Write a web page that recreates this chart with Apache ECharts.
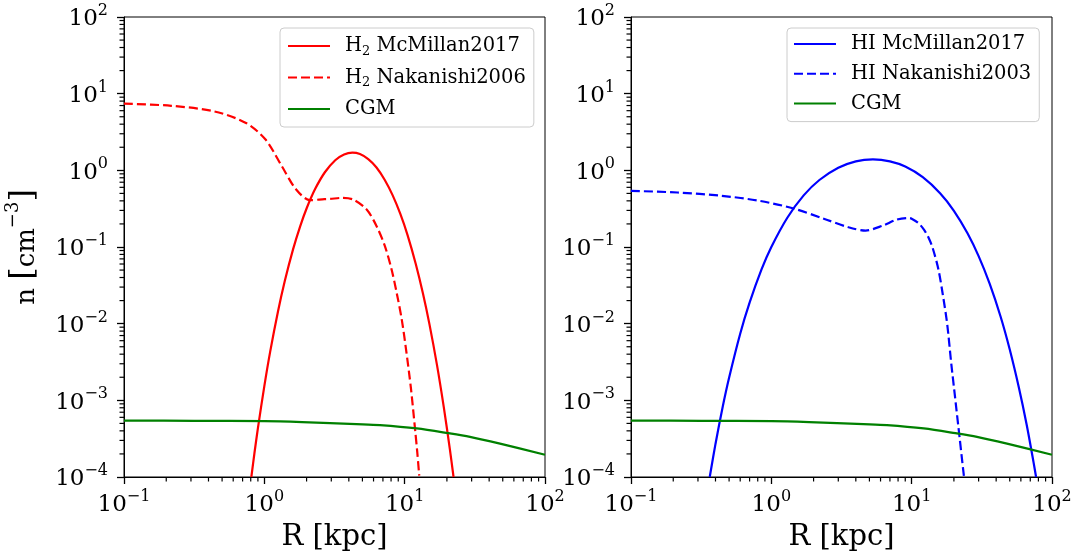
<!DOCTYPE html>
<html><head><meta charset="utf-8">
<script src="https://cdn.jsdelivr.net/npm/echarts@6/dist/echarts.min.js"></script>
<style>html,body{margin:0;padding:0;background:#fff}#c{width:1078px;height:557px}</style>
</head><body><div id="c"></div>
<script>
// ---- data ----
const h2McR = [0.808, 0.85, 0.9, 1.0, 1.1, 1.25, 1.4, 1.6, 1.8, 2.0, 2.3, 2.7, 3.2, 3.7, 4.24, 4.8, 5.5, 6.3, 7.2, 8.2, 9.3, 10.5, 12, 13.5, 15, 17, 19, 21, 22.3];
const h2McN = [1.0e-4, 2.04e-4, 4.33e-4, 1.53e-3, 4.28e-3, 0.0143, 0.0362, 0.0925, 0.186, 0.318, 0.569, 0.944, 1.355, 1.61, 1.70, 1.63, 1.40, 1.09, 0.755, 0.475, 0.272, 0.142, 0.060, 0.0247, 0.00993, 0.00288, 8.15e-4, 2.29e-4, 1.0e-4];

const h2NakR = [0.1, 0.217, 0.44, 0.74, 1.02, 1.33, 1.68, 2.12, 2.68, 2.94, 3.56, 4.31, 5.36, 6.31, 7.24, 8.07, 8.77, 9.53, 10.3, 11.1, 11.86, 12.3, 12.7];
const h2NakN = [7.4, 6.95, 5.87, 4.15, 2.52, 1.14, 0.567, 0.408, 0.421, 0.424, 0.437, 0.415, 0.308, 0.187, 0.102, 0.0509, 0.0253, 0.0114, 0.0042, 0.0014, 4.2e-4, 2.09e-4, 1.04e-4];

const cgmR = [0.1, 0.316, 1.0, 1.86, 2.94, 4.53, 6.67, 12.2, 20.5, 29.2, 47.8, 100];
const cgmN = [5.43e-4, 5.41e-4, 5.35e-4, 5.21e-4, 5.05e-4, 4.90e-4, 4.75e-4, 4.30e-4, 3.73e-4, 3.34e-4, 2.72e-4, 1.95e-4];

const hiMcR = [0.364, 0.4, 0.45, 0.5, 0.6, 0.7, 0.85, 1.0, 1.3, 1.7, 2.2, 3.0, 4.0, 5.3, 7.0, 9.0, 12, 16, 20, 25, 30, 36, 43, 50, 58, 66, 74, 77];
const hiMcN = [1.0e-4, 2.7e-4, 8.2e-4, 1.97e-3, 7.4e-3, 0.0188, 0.0506, 0.100, 0.241, 0.471, 0.748, 1.08, 1.31, 1.39, 1.31, 1.12, 0.815, 0.50, 0.297, 0.151, 0.076, 0.033, 0.0124, 4.6e-3, 1.48e-3, 4.8e-4, 1.53e-4, 1.0e-4];

const hiNakR = [0.1, 0.214, 0.444, 0.822, 1.44, 2.39, 3.55, 4.70, 6.22, 7.79, 9.49, 10.0, 11.2, 12.3, 13.2, 14.1, 15.5, 16.6, 17.9, 19.1, 20.5, 22.0, 23.6];
const hiNakN = [0.54, 0.514, 0.465, 0.40, 0.318, 0.232, 0.181, 0.164, 0.19, 0.227, 0.239, 0.234, 0.204, 0.166, 0.132, 0.0977, 0.0513, 0.0251, 0.01, 3.16e-3, 1e-3, 3.16e-4, 1e-4];

const xMajor = [0.1, 1, 10, 100];
const yMajor = [1e-4, 1e-3, 1e-2, 1e-1, 1, 10, 100];
const minorMult = [2, 3, 4, 5, 6, 7, 8, 9];
const namesLeft = ['H2 McMillan2017', 'H2 Nakanishi2006', 'CGM'];
const namesRight = ['HI McMillan2017', 'HI Nakanishi2003', 'CGM'];

// ---- helpers ----
const FONT = 'DejaVu Serif';
const zip = (a, b) => a.map((v, i) => [v, b[i]]);
function minorOf(major) {
  const out = [];
  for (let i = 0; i < major.length - 1; i++) for (const m of minorMult) out.push(m * major[i]);
  return out;
}
const xMinor = minorOf(xMajor), yMinor = minorOf(yMajor);
const X0 = xMajor[0], X1 = xMajor[xMajor.length - 1], Y0 = yMajor[0], Y1 = yMajor[yMajor.length - 1];
function powLabel(v) {
  const e = Math.round(Math.log10(v));
  return '{b|10}{s|' + (e < 0 ? '\u2212' + (-e) : e) + '}';
}
const tickRich = {
  b: { fontFamily: FONT, fontSize: 23, color: '#000', lineHeight: 28, verticalAlign: 'bottom' },
  s: { fontFamily: FONT, fontSize: 16, color: '#000', lineHeight: 16, verticalAlign: 'top' }
};
const grids = [
  { left: 124, top: 17, width: 421, height: 461 },
  { left: 631, top: 17, width: 421, height: 461 }
].map(g => Object.assign(g, { show: true, borderColor: '#000', borderWidth: 1, backgroundColor: 'transparent', containLabel: false }));

function xAxis(gi) {
  return {
    type: 'log', logBase: 10, gridIndex: gi, min: X0, max: X1, splitNumber: 3, position: 'bottom',
    axisLine: { show: true, onZero: false, lineStyle: { color: '#000', width: 1 } },
    axisTick: { show: true, inside: false, length: 7, lineStyle: { color: '#000', width: 1.3 } },
    axisLabel: { show: true, margin: 12, formatter: powLabel, rich: tickRich },
    splitLine: { show: false },
    name: 'R [kpc]', nameLocation: 'middle', nameGap: 46,
    nameTextStyle: { fontFamily: FONT, fontSize: 29, color: '#000' }
  };
}
function yAxis(gi) {
  const ax = {
    type: 'log', logBase: 10, gridIndex: gi, min: Y0, max: Y1, splitNumber: 6, position: 'left',
    axisLine: { show: true, onZero: false, lineStyle: { color: '#000', width: 1 } },
    axisTick: { show: true, inside: false, length: 7, lineStyle: { color: '#000', width: 1.3 } },
    axisLabel: { show: true, margin: 16, formatter: powLabel, rich: tickRich },
    splitLine: { show: false }
  };
  if (gi === 0) {
    ax.name = '{t|n }{br|[}{t|cm}{s|\u22123}{br|]}';
    ax.nameLocation = 'middle';
    ax.nameRotate = 90;
    ax.nameGap = 84;
    ax.nameTextStyle = {
      fontFamily: FONT, fontSize: 26, color: '#000',
      rich: {
        t: { fontFamily: FONT, fontSize: 26, color: '#000', lineHeight: 34, verticalAlign: 'bottom' },
        br: { fontFamily: FONT, fontSize: 32, color: '#000', lineHeight: 36, verticalAlign: 'bottom' },
        s: { fontFamily: FONT, fontSize: 18, color: '#000', lineHeight: 18, verticalAlign: 'top' }
      }
    };
  }
  return ax;
}
function line(name, r, n, xi, color, dashed) {
  return {
    type: 'line', name, xAxisIndex: xi, yAxisIndex: xi, data: zip(r, n),
    symbol: 'none', showSymbol: false, smooth: 0.3, clip: true,
    lineStyle: { color, width: 2.2, type: dashed ? [9, 4] : 'solid' },
    itemStyle: { color },
    emphasis: { disabled: true }
  };
}
function legendFmt(name) {
  if (name.startsWith('H2')) return '{g|}{t|H}{sub|2}{t|' + name.slice(2) + '}';
  return '{g|}{t|' + name + '}';
}
const legRich = {
  g: { width: 10 },
  t: { fontFamily: FONT, fontSize: 19.5, color: '#000', lineHeight: 24 },
  sub: { fontFamily: FONT, fontSize: 13, color: '#000', lineHeight: 13, verticalAlign: 'bottom' }
};
function legend(data, left, top, gap, pad) {
  return {
    data, left, top, orient: 'vertical', align: 'left', selectedMode: false,
    itemWidth: 42, itemHeight: 14, itemGap: gap, padding: pad,
    itemStyle: { opacity: 0 },
    backgroundColor: 'rgba(255,255,255,0.8)', borderColor: '#cccccc', borderWidth: 1, borderRadius: 4,
    formatter: legendFmt, textStyle: { fontFamily: FONT, fontSize: 19.5, color: '#000', rich: legRich }
  };
}

const chart = echarts.init(document.getElementById('c'), null, { renderer: 'canvas' });
chart.setOption({
  animation: false,
  backgroundColor: '#fff',
  grid: grids,
  xAxis: [xAxis(0), xAxis(1)],
  yAxis: [yAxis(0), yAxis(1)],
  legend: [legend(namesLeft, 280, 28, 9.5, [8, 8, 8, 7]), legend(namesRight, 787, 28, 9.8, [6, 8, 8, 6])],
  series: [
    line(namesLeft[0], h2McR, h2McN, 0, '#ff0000', false),
    line(namesLeft[1], h2NakR, h2NakN, 0, '#ff0000', true),
    line('CGM', cgmR, cgmN, 0, '#008000', false),
    line(namesRight[0], hiMcR, hiMcN, 1, '#0000ff', false),
    line(namesRight[1], hiNakR, hiNakN, 1, '#0000ff', true),
    line('CGM', cgmR, cgmN, 1, '#008000', false)
  ]
});

// minor ticks, positioned through the axes' own log scales
const tickEls = [];
for (const gi of [0, 1]) {
  const finder = { xAxisIndex: gi, yAxisIndex: gi };
  for (const v of xMinor) {
    const p = chart.convertToPixel(finder, [v, Y0]);
    if (!p) continue;
    tickEls.push({ type: 'line', silent: true, z: 100, shape: { x1: p[0], y1: p[1], x2: p[0], y2: p[1] + 4.5 }, style: { stroke: '#000', lineWidth: 1.2 } });
  }
  for (const v of yMinor) {
    const p = chart.convertToPixel(finder, [X0, v]);
    if (!p) continue;
    tickEls.push({ type: 'line', silent: true, z: 100, shape: { x1: p[0] - 4.5, y1: p[1], x2: p[0], y2: p[1] }, style: { stroke: '#000', lineWidth: 1.2 } });
  }
}
chart.setOption({ graphic: { elements: tickEls } });
</script></body></html>
